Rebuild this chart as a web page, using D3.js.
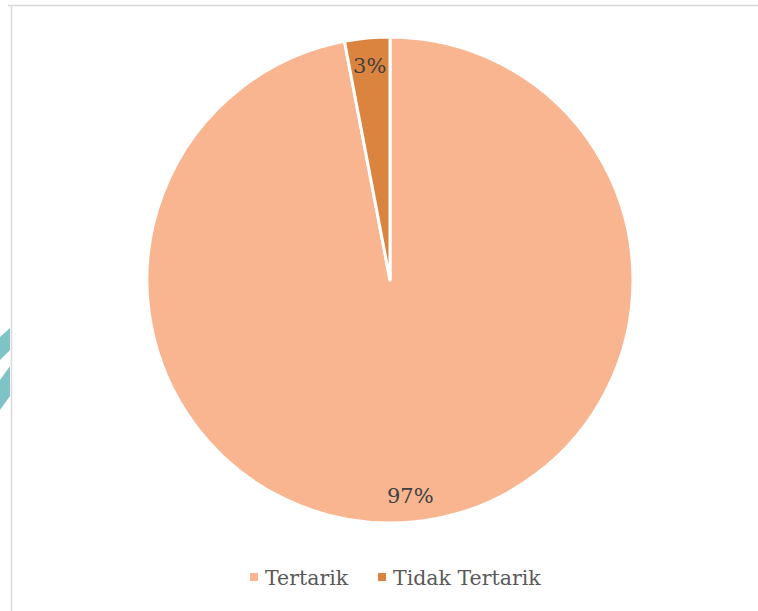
<!DOCTYPE html>
<html>
<head>
<meta charset="utf-8">
<script src="https://cdn.jsdelivr.net/npm/d3@7"></script>
<style>
  html, body { margin: 0; padding: 0; background: #fff; }
  svg { display: block; }
</style>
</head>
<body>
<svg id="chart" width="758" height="611"></svg>
<script>
// Survey answers: share of respondents
const categories = ["Tertarik", "Tidak Tertarik"];
const values = [97, 3];
const labels = ["97%", "3%"];
const colors = ["#F8B590", "#DB8440"];

const svg = d3.select("#chart");
const W = 758, H = 611;

// decorative teal stripes peeking in from the page edge
const deco = svg.append("g");
deco.append("clipPath").attr("id", "edge")
  .append("rect").attr("x", 0).attr("y", 300).attr("width", 10).attr("height", 140);
const stripes = deco.append("g").attr("clip-path", "url(#edge)").attr("fill", "#7FC3C7");
stripes.append("polygon").attr("points", "0,337 10,328 10,350 0,360");
stripes.append("polygon").attr("points", "0,380 10,366 10,396 0,410");

// chart area frame
svg.append("line").attr("x1", 8).attr("x2", W).attr("y1", 5.5).attr("y2", 5.5)
  .attr("stroke", "#D9D9D9").attr("stroke-width", 1.5);
svg.append("line").attr("x1", 11.5).attr("x2", 11.5).attr("y1", 5).attr("y2", H)
  .attr("stroke", "#D9D9D9").attr("stroke-width", 1.5);

const cx = 390, cy = 280, r = 243;
const color = d3.scaleOrdinal().domain(categories).range(colors);

const pie = d3.pie().sort(null).value(d => d.value);
const data = categories.map((c, i) => ({ name: c, value: values[i], label: labels[i] }));
const arcs = pie(data);
const arc = d3.arc().innerRadius(0).outerRadius(r);

const g = svg.append("g").attr("transform", `translate(${cx},${cy})`);
g.selectAll("path.slice").data(arcs).join("path")
  .attr("class", "slice")
  .attr("d", arc)
  .attr("fill", d => color(d.data.name))
  .attr("stroke", "#fff")
  .attr("stroke-width", 3)
  .attr("stroke-linejoin", "round");

// data labels placed inside the slices, near the rim
const labelRadius = [r * 0.89, r * 0.885];
g.selectAll("text.lbl").data(arcs).join("text")
  .attr("class", "lbl")
  .attr("transform", (d, i) => {
    const a = (d.startAngle + d.endAngle) / 2;
    const rr = labelRadius[i];
    return `translate(${Math.sin(a) * rr},${-Math.cos(a) * rr})`;
  })
  .attr("text-anchor", "middle")
  .attr("dy", "0.35em")
  .attr("font-family", "'DejaVu Serif', serif")
  .attr("font-size", 21)
  .attr("fill", "#404040")
  .text(d => d.data.label);

// legend
const legend = svg.append("g").attr("font-family", "'DejaVu Serif', serif")
  .attr("font-size", 20.5).attr("fill", "#595959");
const legendX = [250, 378];
categories.forEach((c, i) => {
  legend.append("rect").attr("x", legendX[i]).attr("y", 573)
    .attr("width", 8).attr("height", 8).attr("fill", color(c));
  legend.append("text").attr("x", legendX[i] + 15).attr("y", 585)
    .text(c);
});
</script>
</body>
</html>
